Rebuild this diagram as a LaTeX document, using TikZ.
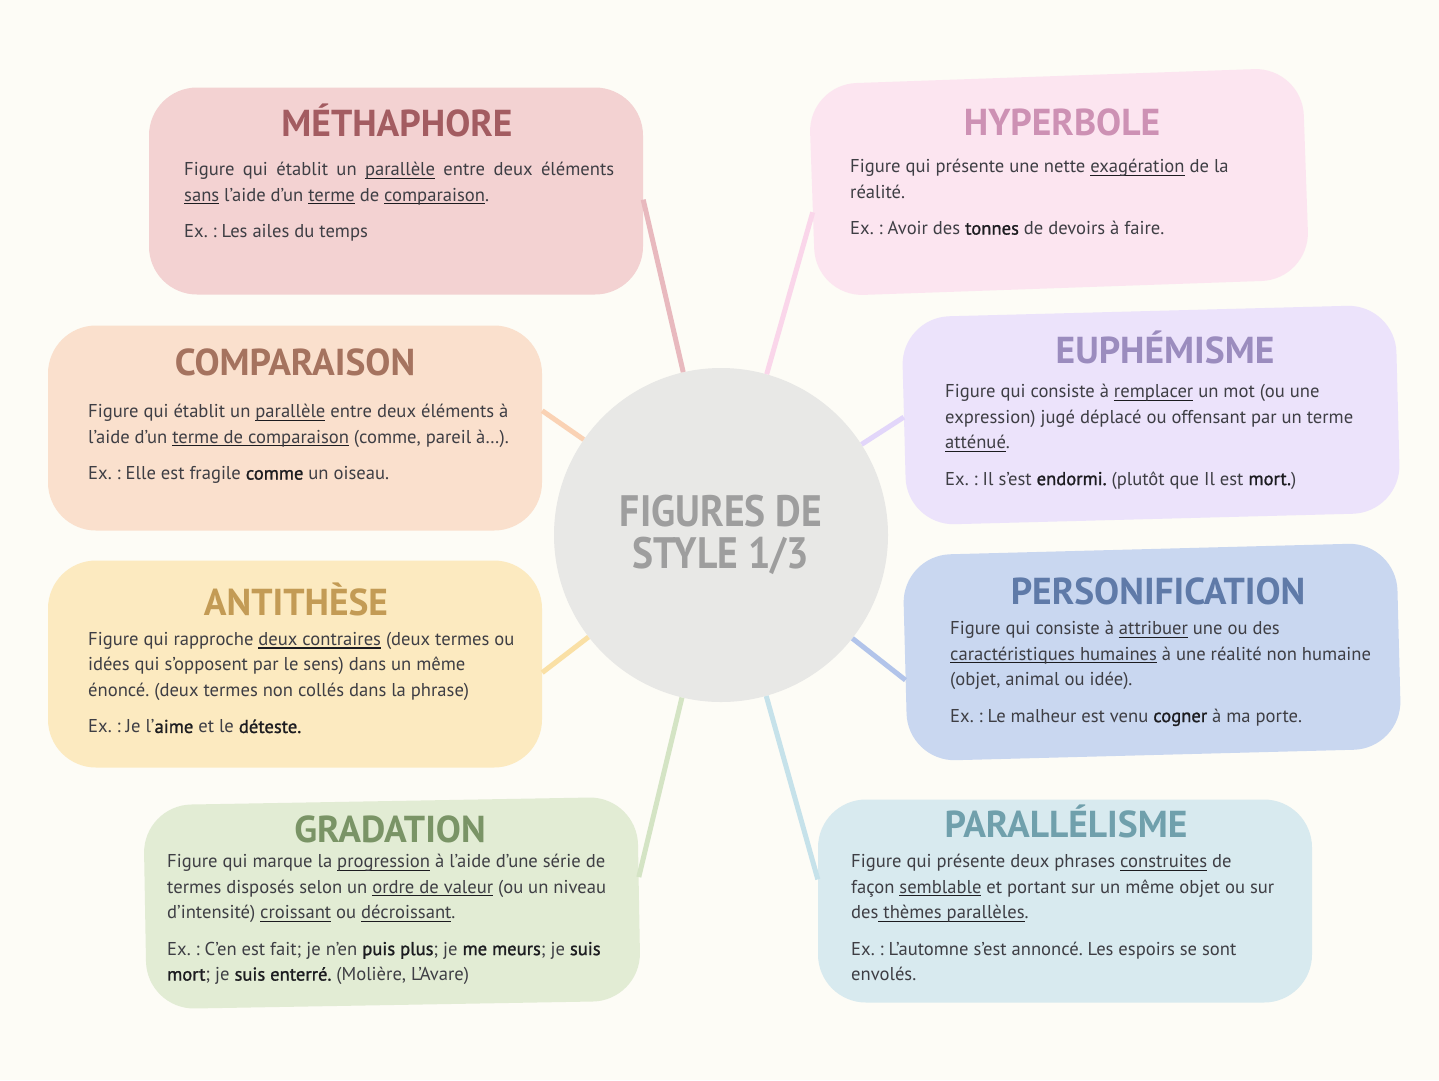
\documentclass[tikz,border=0pt]{standalone}
\usepackage{fontspec}
\setmainfont{PT Sans}
\newfontfamily\titrefont{PT Sans}
\newfontfamily\pivotfont[FakeStretch=0.9]{PT Sans}
\newfontfamily\demigras[FakeBold=1.2]{PT Sans}
\frenchspacing

% couleurs du fond et des textes
\definecolor{fond}{RGB}{253,252,246}
\definecolor{texte}{RGB}{62,62,68}
\definecolor{fort}{RGB}{28,28,32}
\definecolor{gris}{RGB}{232,232,230}
\definecolor{grisfonce}{RGB}{158,158,158}
% couleurs des bulles : fond, titre, trait
\definecolor{metaF}{RGB}{243,210,210}\definecolor{metaT}{RGB}{163,92,97}\definecolor{metaL}{RGB}{232,185,190}
\definecolor{hypeF}{RGB}{252,229,240}\definecolor{hypeT}{RGB}{205,145,180}\definecolor{hypeL}{RGB}{250,214,234}
\definecolor{compF}{RGB}{250,224,205}\definecolor{compT}{RGB}{165,115,95}\definecolor{compL}{RGB}{250,210,180}
\definecolor{euphF}{RGB}{236,227,251}\definecolor{euphT}{RGB}{155,140,190}\definecolor{euphL}{RGB}{226,214,250}
\definecolor{antiF}{RGB}{252,234,192}\definecolor{antiT}{RGB}{195,155,85}\definecolor{antiL}{RGB}{250,224,165}
\definecolor{persF}{RGB}{201,215,240}\definecolor{persT}{RGB}{95,122,168}\definecolor{persL}{RGB}{178,196,234}
\definecolor{gradF}{RGB}{226,236,212}\definecolor{gradT}{RGB}{122,148,102}\definecolor{gradL}{RGB}{212,228,196}
\definecolor{paraF}{RGB}{216,234,239}\definecolor{paraT}{RGB}{112,160,172}\definecolor{paraL}{RGB}{198,226,234}

% mot souligné (le trait passe sous la ligne de base)
\newsavebox\boitesoul
\newcommand{\souligne}[1]{\sbox\boitesoul{#1}\rlap{\color{fort}\rule[-3.2pt]{\wd\boitesoul}{1.2pt}}\usebox\boitesoul}
% mot mis en valeur dans les exemples
\newcommand{\fort}[1]{\textcolor{fort}{\demigras #1}}

\begin{document}
\begin{tikzpicture}[
        x=1pt, y=-1pt,
        % --- STYLES GÉNÉRAUX ---
        % bulle colorée de chaque figure
        bulle/.style={
            rectangle,
            rounded corners=48pt,
            minimum width=494pt,
            minimum height=207pt,
            inner sep=0pt
        },
        % titre de chaque bulle
        titre/.style={
            font=\titrefont\bfseries\fontsize{37.5}{40}\selectfont,
            anchor=base,
            inner sep=0pt
        },
        % texte de la définition et de l'exemple
        corps/.style={
            font=\fontsize{18.6}{25.5}\selectfont,
            text=texte,
            align=left,
            anchor=north west,
            inner sep=0pt
        },
        % trait qui relie une bulle au centre
        lien/.style={
            line width=5pt
        },
        % bulle centrale
        pivot/.style={
            circle,
            fill=gris,
            minimum size=334pt,
            text=grisfonce,
            font=\pivotfont\bfseries\fontsize{44}{42}\selectfont,
            align=center
        }
    ]

    % fond de la page
    \fill[fond] (0,0) rectangle (1439,1080);
    \useasboundingbox (0,0) rectangle (1439,1080);

    % --- LES BULLES ---
    \node[bulle, fill=metaF] (meta) at (396,191) {};
    \node[bulle, fill=hypeF, minimum height=212pt, rotate=2] (hype) at (1059,182) {};
    \node[bulle, fill=compF, minimum height=205pt] (comp) at (295,428) {};
    \node[bulle, fill=euphF, minimum height=208pt, rotate=1.5] (euph) at (1151,415) {};
    \node[bulle, fill=antiF] (anti) at (295,664) {};
    \node[bulle, fill=persF, minimum height=206pt, rotate=1.5] (pers) at (1152,652) {};
    \node[bulle, fill=gradF, minimum height=204pt, rotate=1] (grad) at (392,903) {};
    \node[bulle, fill=paraF, minimum height=203pt] (para) at (1065,901) {};

    % --- BULLE CENTRALE ---
    \node[pivot] (hub) at (721,535) {FIGURES DE\\STYLE 1/3};

    % --- TRAITS VERS LE CENTRE ---
    \draw[lien, metaL] (meta.-2) -- (hub);
    \draw[lien, hypeL] (hype.185) -- (hub);
    \draw[lien, compL] (comp.4) -- (hub);
    \draw[lien, euphL] (euph.179) -- (hub);
    \draw[lien, antiL] (anti.-2) -- (hub);
    \draw[lien, persL] (pers.185) -- (hub);
    \draw[lien, gradL] (grad.5) -- (hub);
    \draw[lien, paraL] (para.175) -- (hub);

    % --- MÉTHAPHORE (en haut à gauche) ---
    \node[titre, text=metaT] (meta-t) at (397,136) {MÉTHAPHORE};
    \node[corps, text width=430pt, align=justify] (meta-c) at (184,162) {Figure qui établit un \souligne{parallèle} entre deux éléments\linebreak
        \souligne{sans} l’aide d’un \souligne{terme} de \souligne{comparaison}.\\[11pt]
        Ex. : Les ailes du temps};

    % --- HYPERBOLE (en haut à droite) ---
    \node[titre, text=hypeT] (hype-t) at (1062,135) {HYPERBOLE};
    \node[corps] (hype-c) at (850,159) {Figure qui présente une nette \souligne{exagération} de la\\
        réalité.\\[11pt]
        Ex. : Avoir des \fort{tonnes} de devoirs à faire.};

    % --- COMPARAISON ---
    \node[titre, text=compT] (comp-t) at (295,375) {COMPARAISON};
    \node[corps] (comp-c) at (88,404) {Figure qui établit un \souligne{parallèle} entre deux éléments à\\
        l’aide d’un \souligne{terme de comparaison} (comme, pareil à…).\\[11pt]
        Ex. : Elle est fragile \fort{comme} un oiseau.};

    % --- EUPHÉMISME ---
    \node[titre, text=euphT] (euph-t) at (1165,363) {EUPHÉMISME};
    \node[corps] (euph-c) at (945,384) {Figure qui consiste à \souligne{remplacer} un mot (ou une\\
        expression) jugé déplacé ou offensant par un terme\\
        \souligne{atténué}.\\[11pt]
        Ex. : Il s’est \fort{endormi.} (plutôt que Il est \fort{mort.})};

    % --- ANTITHÈSE ---
    \node[titre, text=antiT] (anti-t) at (296,615) {ANTITHÈSE};
    \node[corps] (anti-c) at (88,632) {Figure qui rapproche \souligne{deux contraires} (deux termes ou\\
        idées qui s’opposent par le sens) dans un même\\
        énoncé. (deux termes non collés dans la phrase)\\[11pt]
        Ex. : Je l’\fort{aime} et le \fort{déteste.}};

    % --- PERSONIFICATION ---
    \node[titre, text=persT] (pers-t) at (1158,604) {PERSONIFICATION};
    \node[corps] (pers-c) at (950,621) {Figure qui consiste à \souligne{attribuer} une ou des\\
        \souligne{caractéristiques humaines} à une réalité non humaine\\
        (objet, animal ou idée).\\[11pt]
        Ex. : Le malheur est venu \fort{cogner} à ma porte.};

    % --- GRADATION (en bas à gauche) ---
    \node[titre, text=gradT] (grad-t) at (390,842) {GRADATION};
    \node[corps] (grad-c) at (167,854) {Figure qui marque la \souligne{progression} à l’aide d'une série de\\
        termes disposés selon un \souligne{ordre de valeur} (ou un niveau\\
        d’intensité) \souligne{croissant} ou \souligne{décroissant}.\\[11pt]
        Ex. : C’en est fait; je n’en \fort{puis plus}; je \fort{me meurs}; je \fort{suis}\\
        \fort{mort}; je \fort{suis enterré.} (Molière, L'Avare)};

    % --- PARALLÉLISME (en bas à droite) ---
    \node[titre, text=paraT] (para-t) at (1066,837) {PARALLÉLISME};
    \node[corps] (para-c) at (851,854) {Figure qui présente deux phrases \souligne{construites} de\\
        façon \souligne{semblable} et portant sur un même objet ou sur\\
        des\souligne{ thèmes parallèles}.\\[11pt]
        Ex. : L’automne s’est annoncé. Les espoirs se sont\\
        envolés.};

\end{tikzpicture}
\end{document}
